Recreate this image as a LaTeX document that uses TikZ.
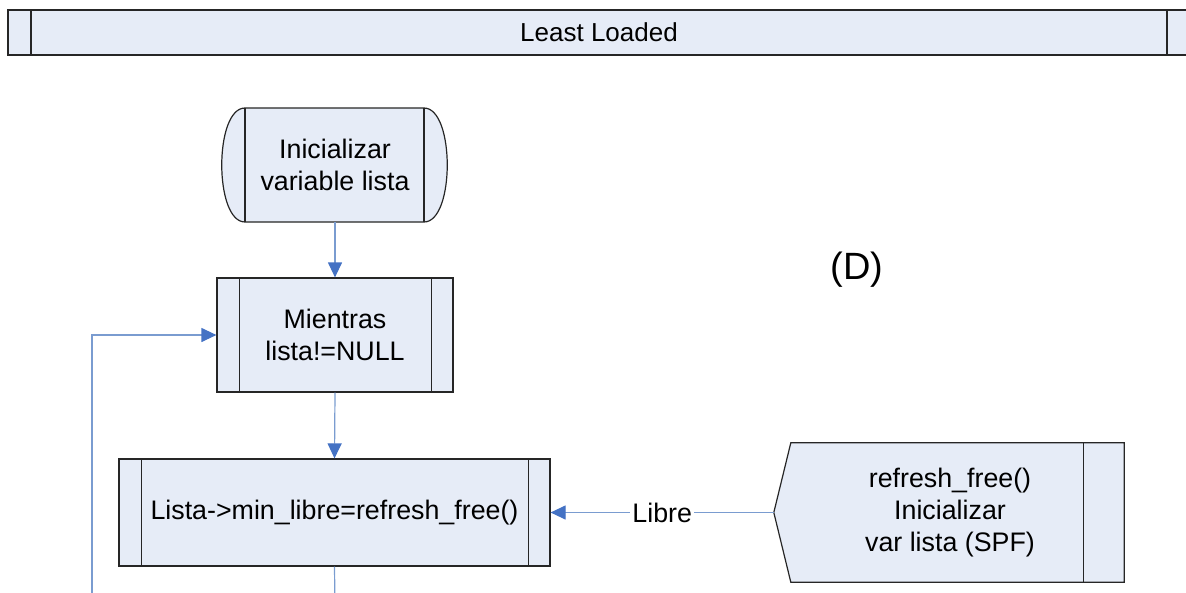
\documentclass[tikz,border=0pt]{standalone}
\usepackage{fontspec}
\setmainfont{Liberation Sans}
\usetikzlibrary{arrows.meta}
\definecolor{boxfill}{RGB}{230,236,247}
\definecolor{linkblue}{RGB}{122,156,208}
\definecolor{tipblue}{RGB}{68,114,196}
\begin{document}
\begin{tikzpicture}[x=1pt,y=-1pt,
  txt/.style={font=\fontsize{26.8}{32}\selectfont, align=center, text=black},
  proc/.style={txt, draw=black!85, line width=1.2pt, fill=boxfill, inner sep=0pt},
  bar/.style={draw=black!85, line width=1.2pt},
  outline/.style={draw=black!85, line width=1.2pt, fill=boxfill},
  link/.style={draw=linkblue, line width=1.2pt},
  arr/.style={link, -{Triangle[length=15pt,width=14pt,color=tipblue]}}]
\useasboundingbox (0,0) rectangle (1186,592);
\clip (0,0) rectangle (1186,592);

% swimlane header
\path[outline] (8,10) rectangle (1200,55);
\draw[bar] (31,10) -- (31,55) (1167,10) -- (1167,55);
\node[txt, font=\fontsize{26}{32}\selectfont] (hdr) at (599,32.5) {Least Loaded};

% start terminator
\path[outline] (245,108) -- (424,108)
  .. controls (455,108) and (455,222) .. (424,222) -- (245,222)
  .. controls (214,222) and (214,108) .. (245,108) -- cycle;
\draw[bar] (245,108) -- (245,222) (424,108) -- (424,222);
\node[txt, minimum width=224pt, minimum height=114pt, inner sep=0pt] (term) at (335,165)
  {Inicializar\\variable lista};

% loop box
\node[proc, minimum width=236pt, minimum height=114pt] (mien) at (335,335)
  {Mientras\\lista!=NULL};
\draw[bar] ([xshift=23pt]mien.north west) -- ([xshift=23pt]mien.south west)
           ([xshift=-22pt]mien.north east) -- ([xshift=-22pt]mien.south east);

% assignment box
\node[proc, minimum width=431pt, minimum height=107pt] (lista) at (334.5,512.5)
  {Lista->min\_libre=refresh\_free()};
\draw[bar] ([xshift=23pt]lista.north west) -- ([xshift=23pt]lista.south west)
           ([xshift=-22pt]lista.north east) -- ([xshift=-22pt]lista.south east);

% off-page reference
\node[txt, minimum width=350pt, minimum height=139pt, inner sep=0pt] (pent) at (949,512.5) {};
\path[outline] (pent.west) -- ([xshift=17pt]pent.north west) -- (pent.north east)
  -- (pent.south east) -- ([xshift=17pt]pent.south west) -- cycle;
\draw[bar] ([xshift=-41pt]pent.north east) -- ([xshift=-41pt]pent.south east);
\node[txt] (penttext) at (950,512.5) {refresh\_free()\\Inicializar\\var lista (SPF)};

% label
\node[font=\fontsize{38}{44}\selectfont] (dlabel) at (857,270) {(D)};

% connectors
\coordinate (loopfoot) at (92,610);
\coordinate (listafoot) at (335,610);
\draw[arr] (term.south) -- (mien.north);
\draw[arr] (mien.south) -- (lista.north);
\draw[arr] (loopfoot) |- (mien.west);
\draw[link] (lista.south) -- (listafoot);
\draw[arr] (pent.west) -- node[txt, fill=white, inner sep=2pt] (libre) {Libre} (lista.east);
\end{tikzpicture}
\end{document}
